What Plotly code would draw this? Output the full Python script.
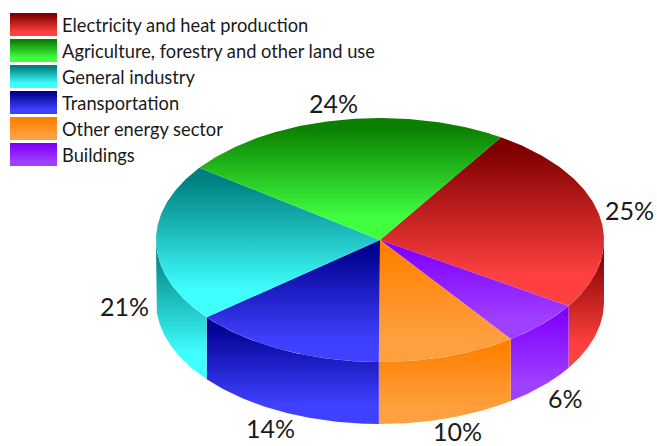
import numpy as np
import plotly.graph_objects as go

categories = ["Electricity and heat production", "Agriculture, forestry and other land use",
              "General industry", "Transportation", "Other energy sector", "Buildings"]
values = [25, 24, 21, 14, 10, 6]
tick_labels = ["25%", "24%", "21%", "14%", "10%", "6%"]
dark = ["#800000", "#0b8000", "#008080", "#000090", "#ff8000", "#8000ff"]
light = ["#ff4040", "#40ff40", "#40ffff", "#4040ff", "#ffa040", "#a040ff"]

# Clockwise drawing order, starting with the red slice
draw_order = [0, 5, 4, 3, 2, 1]
start_angle = 32.7
CX, CY, RX, RY, DEPTH = 380.0, 240.0, 224.0, 122.0, 62.0
WIDTH, HEIGHT = 657, 446
LABEL_HALF_HEIGHT = 15


def pt(a, k=1.0):
    r = np.radians(a)
    return CX + k * RX * np.sin(r), CY - k * RY * np.cos(r)


def scale(i):
    # The y axis runs downwards on screen, so position 0 is the lower edge.
    # The colour saturates before the lower edge, as in the reference.
    return [[0, light[i]], [0.18, light[i]], [0.92, dark[i]], [1, dark[i]]]


fig = go.Figure()
spans = []
a = start_angle
total = sum(values)
for i in draw_order:
    b = a + 360.0 * values[i] / total
    spans.append((i, a, b))
    a = b

# Side walls: the part of every slice that lies in the front half (90..270 degrees)
for i, a0, a1 in spans:
    for shift in (0, 360):
        lo, hi = max(a0, 90 + shift), min(a1, 270 + shift)
        if hi <= lo:
            continue
        t = np.linspace(lo, hi, 80)
        x, y = pt(t)
        fig.add_trace(go.Scatter(
            x=np.r_[x, x[::-1], x[0]], y=np.r_[y, y[::-1] + DEPTH, y[0]],
            mode="lines", fill="toself", line=dict(width=0), hoverinfo="skip",
            name=categories[i] + " side", showlegend=False,
            fillgradient=dict(type="vertical", colorscale=scale(i))))

# Top faces
for i, a0, a1 in spans:
    t = np.linspace(a0, a1, 120)
    x, y = pt(t)
    fig.add_trace(go.Scatter(
        x=np.r_[CX, x, CX], y=np.r_[CY, y, CY],
        mode="lines", fill="toself", line=dict(width=0), hoverinfo="skip",
        name=categories[i], showlegend=False,
        fillgradient=dict(type="vertical", colorscale=scale(i))))

# Percentage labels
for i, a0, a1 in spans:
    m = (a0 + a1) / 2
    lx, ly = pt(m, 1.14)
    if np.cos(np.radians(m)) < 0:
        ly += DEPTH
    ly = min(ly, HEIGHT - LABEL_HALF_HEIGHT)
    fig.add_annotation(x=lx, y=ly, text=tick_labels[i], showarrow=False,
                       font=dict(family="Lato", size=25, color="#1a1a1a"))

# Legend
LX0, LX1, LY0, LH, LSTEP = 10, 57, 13, 23, 26
for n, cat in enumerate(categories):
    y0 = LY0 + n * LSTEP
    fig.add_trace(go.Scatter(
        x=[LX0, LX1, LX1, LX0, LX0], y=[y0, y0, y0 + LH, y0 + LH, y0],
        mode="lines", fill="toself", line=dict(width=0), hoverinfo="skip",
        name=cat + " key", showlegend=False,
        fillgradient=dict(type="vertical", colorscale=scale(n))))
    fig.add_annotation(x=60, y=y0 + LH / 2, text=cat, showarrow=False, xanchor="left",
                       font=dict(family="Lato", size=18.3, color="#1a1a1a"))

fig.update_layout(
    width=WIDTH, height=HEIGHT, margin=dict(l=0, r=0, t=0, b=0),
    paper_bgcolor="white", plot_bgcolor="white", showlegend=False,
    xaxis=dict(range=[0, WIDTH], visible=False, fixedrange=True),
    yaxis=dict(range=[HEIGHT, 0], visible=False, fixedrange=True),
)
fig.write_html("out.html", config=dict(displayModeBar=False),
               post_script="document.body.style.margin='0';document.body.style.overflow='hidden';")
